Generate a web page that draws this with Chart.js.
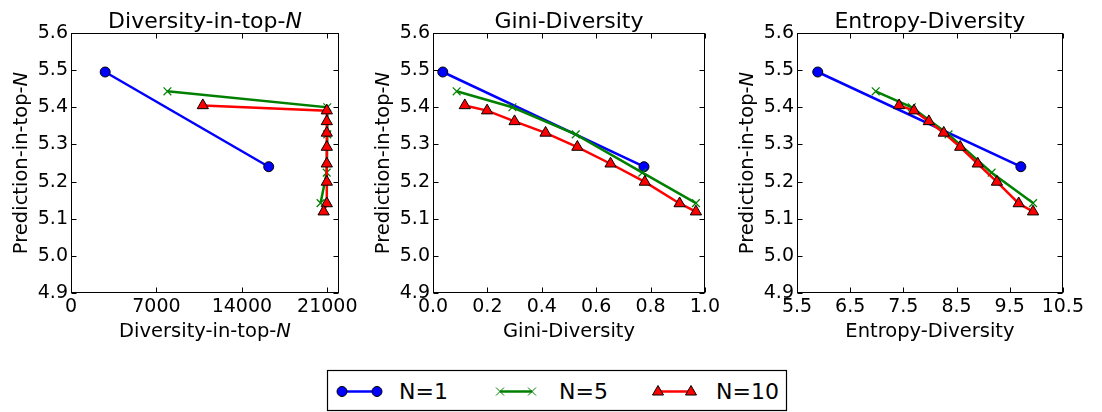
<!DOCTYPE html>
<html>
<head>
<meta charset="utf-8">
<script src="https://cdn.jsdelivr.net/npm/chart.js@4.4.1/dist/chart.umd.min.js"></script>
<style>
  html, body { margin: 0; padding: 0; background: #fff; }
  #page { position: relative; width: 1102px; height: 412px; overflow: hidden; font-family: 'DejaVu Sans', sans-serif; }
  #page canvas { position: absolute; top: 0; }
  #legend { position: absolute; left: 0; top: 0; }
</style>
</head>
<body>
<div id="page">
  <canvas id="cDiv" width="361" height="345" style="left:0px"></canvas>
  <canvas id="cGini" width="361" height="345" style="left:362px"></canvas>
  <canvas id="cEnt" width="361" height="345" style="left:726px"></canvas>
  <svg id="legend" width="1102" height="412" xmlns="http://www.w3.org/2000/svg">
    <rect x="327.5" y="370.5" width="459" height="40" fill="#fff" stroke="#000" stroke-width="1.2"/>
    <line x1="342" y1="391.5" x2="377" y2="391.5" stroke="#0000ff" stroke-width="2.5"/>
    <circle cx="342" cy="391.5" r="5" fill="#0000ff" stroke="#000" stroke-width="1"/>
    <circle cx="377" cy="391.5" r="5" fill="#0000ff" stroke="#000" stroke-width="1"/>
    <text x="399" y="398.5" font-family="DejaVu Sans" font-size="22">N=1</text>
    <line x1="500" y1="391.5" x2="532" y2="391.5" stroke="#008000" stroke-width="2.5"/>
    <path d="M496 387.5 L504 395.5 M504 387.5 L496 395.5 M528 387.5 L536 395.5 M536 387.5 L528 395.5" stroke="#008000" stroke-width="1"/>
    <text x="559" y="398.5" font-family="DejaVu Sans" font-size="22">N=5</text>
    <line x1="658" y1="391.5" x2="691" y2="391.5" stroke="#ff0000" stroke-width="2.5"/>
    <polygon points="658,385.5 652.5,395 663.5,395" fill="#ff0000" stroke="#000" stroke-width="1"/>
    <polygon points="691,385.5 685.5,395 696.5,395" fill="#ff0000" stroke="#000" stroke-width="1"/>
    <text x="716" y="398.5" font-family="DejaVu Sans" font-size="22">N=10</text>
  </svg>
</div>
<script>
// --- data ---
const predN1  = [5.495, 5.24];
const predN5  = [5.443, 5.40, 5.327, 5.224, 5.142];
const predN10 = [5.405, 5.391, 5.362, 5.331, 5.293, 5.248, 5.199, 5.141, 5.119];

const divN1  = [2800, 16200];
const divN5  = [7900, 21000, 21000, 20950, 20450];
const divN10 = [10800, 20960, 20960, 20960, 20960, 20960, 20960, 20960, 20700];

const giniN1  = [0.036, 0.776];
const giniN5  = [0.087, 0.292, 0.525, 0.77, 0.967];
const giniN10 = [0.117, 0.199, 0.30, 0.414, 0.531, 0.653, 0.779, 0.907, 0.967];

const entN1  = [5.89, 9.71];
const entN5  = [6.98, 7.66, 8.35, 9.16, 9.94];
const entN10 = [7.42, 7.70, 7.98, 8.26, 8.57, 8.90, 9.26, 9.67, 9.94];

const yTicks    = [4.9, 5.0, 5.1, 5.2, 5.3, 5.4, 5.5, 5.6];
const divTicks  = [0, 7000, 14000, 21000];
const giniTicks = [0.0, 0.2, 0.4, 0.6, 0.8, 1.0];
const entTicks  = [5.5, 6.5, 7.5, 8.5, 9.5, 10.5];

const FONT = "'DejaVu Sans', sans-serif";
const pts = (xs, ys) => xs.map((x, i) => ({ x, y: ys[i] }));

// text with an italic (math) part, drawn centred on x
function drawMixed(ctx, parts, x, y, size) {
    const fonts = parts.map(p => `${p[1] ? 'italic ' : ''}${size}px ${FONT}`);
    let total = 0;
    const widths = parts.map((p, i) => { ctx.font = fonts[i]; const w = ctx.measureText(p[0]).width; total += w; return w; });
    let cx = x - total / 2;
    ctx.textAlign = 'left'; ctx.textBaseline = 'alphabetic'; ctx.fillStyle = '#000';
    parts.forEach((p, i) => { ctx.font = fonts[i]; ctx.fillText(p[0], cx, y); cx += widths[i]; });
}

// frame, inward ticks on all four sides, title and axis labels (matplotlib classic look)
const panelDeco = {
    id: 'panelDeco',
    afterDraw(chart, args, o) {
        const { ctx, chartArea: a, scales } = chart;
        const L = Math.round(a.left) + 0.5, R = Math.round(a.right) - 0.5;
        const T = Math.round(a.top) + 0.5, B = Math.round(a.bottom) - 0.5;
        ctx.save();
        ctx.strokeStyle = '#000'; ctx.lineWidth = 1;
        ctx.beginPath();
        scales.x.ticks.forEach(t => {
            const px = Math.round(scales.x.getPixelForValue(t.value)) + 0.5;
            ctx.moveTo(px, B); ctx.lineTo(px, B - 5);
            ctx.moveTo(px, T); ctx.lineTo(px, T + 5);
        });
        scales.y.ticks.forEach(t => {
            const py = Math.round(scales.y.getPixelForValue(t.value)) + 0.5;
            ctx.moveTo(L, py); ctx.lineTo(L + 5, py);
            ctx.moveTo(R, py); ctx.lineTo(R - 5, py);
        });
        ctx.stroke();
        ctx.strokeRect(L, T, R - L, B - T);

        const cx = (a.left + a.right) / 2, cy = (a.top + a.bottom) / 2;
        drawMixed(ctx, o.title, cx, a.top - 5, 22);
        drawMixed(ctx, o.xLabel, cx, a.bottom + 44, 19.5);
        ctx.translate(a.left - 44, cy);
        ctx.rotate(-Math.PI / 2);
        drawMixed(ctx, o.yLabel, 0, 0, 19.5);
        ctx.restore();
    }
};

function makePanel(id, xs1, xs5, xs10, xTicks, xMin, xMax, fmt, title, xLabel) {
    new Chart(document.getElementById(id), {
        type: 'scatter',
        data: {
            datasets: [
                { label: 'N=1', data: pts(xs1, predN1), showLine: true, order: 3,
                  borderColor: '#0000ff', borderWidth: 2.5, pointStyle: 'circle', pointRadius: 5,
                  pointBackgroundColor: '#0000ff', pointBorderColor: '#000', pointBorderWidth: 1 },
                { label: 'N=5', data: pts(xs5, predN5), showLine: true, order: 2,
                  borderColor: '#008000', borderWidth: 2.5, pointStyle: 'crossRot', pointRadius: 5.5,
                  pointBackgroundColor: '#008000', pointBorderColor: '#008000', pointBorderWidth: 1.2 },
                { label: 'N=10', data: pts(xs10, predN10), showLine: true, order: 1,
                  borderColor: '#ff0000', borderWidth: 2.5, pointStyle: 'triangle', pointRadius: 6.5,
                  pointBackgroundColor: '#ff0000', pointBorderColor: '#000', pointBorderWidth: 1 },
            ]
        },
        options: {
            responsive: false, animation: false, clip: false,
            layout: { padding: { top: 33, right: 11, left: 0, bottom: 0 } },
            plugins: {
                legend: { display: false }, tooltip: { enabled: false },
                panelDeco: { title, xLabel, yLabel: [['Prediction-in-top-', false], ['N', true]] }
            },
            scales: {
                x: {
                    type: 'linear', min: xMin, max: xMax,
                    afterBuildTicks: s => { s.ticks = xTicks.map(v => ({ value: v })); },
                    afterFit: s => { s.height = 52; },
                    grid: { display: false, drawTicks: false }, border: { display: false },
                    ticks: { autoSkip: false, maxRotation: 0, padding: 3, color: '#000',
                             font: { family: FONT, size: 19 }, callback: fmt }
                },
                y: {
                    type: 'linear', min: 4.9, max: 5.6,
                    afterBuildTicks: s => { s.ticks = yTicks.map(v => ({ value: v })); },
                    afterFit: s => { s.width = 71; },
                    grid: { display: false, drawTicks: false }, border: { display: false },
                    ticks: { autoSkip: false, padding: 3, color: '#000',
                             font: { family: FONT, size: 19 }, callback: v => v.toFixed(1) }
                }
            }
        },
        plugins: [panelDeco]
    });
}

makePanel('cDiv', divN1, divN5, divN10, divTicks, 0, 21960, v => String(v),
    [['Diversity-in-top-', false], ['N', true]], [['Diversity-in-top-', false], ['N', true]]);
makePanel('cGini', giniN1, giniN5, giniN10, giniTicks, 0, 1, v => v.toFixed(1),
    [['Gini-Diversity', false]], [['Gini-Diversity', false]]);
makePanel('cEnt', entN1, entN5, entN10, entTicks, 5.5, 10.5, v => v.toFixed(1),
    [['Entropy-Diversity', false]], [['Entropy-Diversity', false]]);
</script>
</body>
</html>
